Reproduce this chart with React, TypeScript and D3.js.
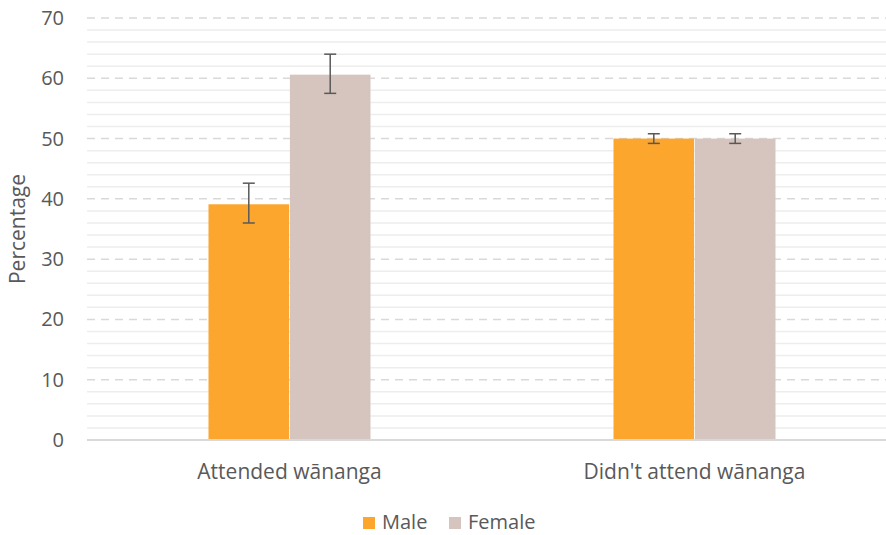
import React, { useEffect, useRef } from 'react';
import * as d3 from 'd3';

const categories = ['Attended w\u0101nanga', "Didn't attend w\u0101nanga"];
const seriesNames = ['Male', 'Female'];
const maleValues = [39.1, 50.0];
const femaleValues = [60.6, 50.0];
const maleLow = [36.0, 49.2];
const maleHigh = [42.6, 50.8];
const femaleLow = [57.5, 49.2];
const femaleHigh = [64.0, 50.8];
const yTicks = [0, 10, 20, 30, 40, 50, 60, 70];

const colors = ['#FCA62E', '#D6C5BE'];

const App: React.FC = () => {
  const svgRef = useRef<SVGSVGElement>(null);

  useEffect(() => {
    if (!svgRef.current) return;
    const width = 886;
    const height = 535;
    const margin = { top: 18, right: -11, bottom: 95, left: 87 };
    const font = 'Open Sans, sans-serif';

    const svg = d3.select(svgRef.current);
    svg.selectAll('*').remove();

    const y = d3.scaleLinear().domain([0, 70]).range([height - margin.bottom, margin.top]);
    const x0 = d3.scaleBand<string>()
      .domain(categories)
      .range([margin.left, width - margin.right])
      .padding(0);
    const bw = x0.bandwidth();
    const x1 = d3.scaleBand<string>()
      .domain(seriesNames)
      .range([bw * 0.3, bw * 0.7])
      .paddingInner(0.01);

    // minor gridlines
    const minor = d3.range(2, 70, 2).filter(v => v % 10 !== 0);
    svg.append('g')
      .selectAll('line')
      .data(minor)
      .join('line')
      .attr('x1', margin.left).attr('x2', width)
      .attr('y1', d => y(d)).attr('y2', d => y(d))
      .attr('stroke', '#EDEDED').attr('stroke-width', 1.5);

    // major gridlines
    svg.append('g')
      .selectAll('line')
      .data(yTicks.filter(d => d > 0))
      .join('line')
      .attr('x1', margin.left).attr('x2', width)
      .attr('y1', d => y(d)).attr('y2', d => y(d))
      .attr('stroke', '#D9D9D9').attr('stroke-width', 1.5)
      .attr('stroke-dasharray', '8,6');

    // bars
    const data = categories.map((c, i) => ({
      cat: c,
      items: [
        { s: seriesNames[0], v: maleValues[i], lo: maleLow[i], hi: maleHigh[i], c: colors[0] },
        { s: seriesNames[1], v: femaleValues[i], lo: femaleLow[i], hi: femaleHigh[i], c: colors[1] },
      ],
    }));

    const groups = svg.append('g')
      .selectAll('g')
      .data(data)
      .join('g')
      .attr('transform', d => `translate(${x0(d.cat)},0)`);

    groups.selectAll('rect')
      .data(d => d.items)
      .join('rect')
      .attr('x', d => x1(d.s)!)
      .attr('width', x1.bandwidth())
      .attr('y', d => y(d.v))
      .attr('height', d => y(0) - y(d.v))
      .attr('fill', d => d.c);

    // zero line
    svg.append('line')
      .attr('x1', margin.left).attr('x2', width)
      .attr('y1', y(0)).attr('y2', y(0))
      .attr('stroke', '#D9D9D9').attr('stroke-width', 2);

    // error bars
    const eb = groups.selectAll('g.err')
      .data(d => d.items)
      .join('g')
      .attr('class', 'err')
      .attr('transform', d => `translate(${x1(d.s)! + x1.bandwidth() / 2},0)`);
    eb.append('line')
      .attr('y1', d => y(d.lo)).attr('y2', d => y(d.hi))
      .attr('stroke', '#595959').attr('stroke-width', 1.5);
    eb.selectAll('line.cap')
      .data(d => [d.lo, d.hi])
      .join('line')
      .attr('class', 'cap')
      .attr('x1', -6).attr('x2', 6)
      .attr('y1', d => y(d)).attr('y2', d => y(d))
      .attr('stroke', '#595959').attr('stroke-width', 1.5);

    // y tick labels
    svg.append('g')
      .selectAll('text')
      .data(yTicks)
      .join('text')
      .attr('x', 64)
      .attr('y', d => y(d))
      .attr('dy', '0.35em')
      .attr('text-anchor', 'end')
      .attr('font-family', font)
      .attr('font-size', 20)
      .attr('fill', '#595959')
      .text(d => d);

    // x labels
    svg.append('g')
      .selectAll('text')
      .data(categories)
      .join('text')
      .attr('x', d => x0(d)! + bw / 2)
      .attr('y', 479)
      .attr('text-anchor', 'middle')
      .attr('font-family', font)
      .attr('font-size', 21)
      .attr('fill', '#595959')
      .text(d => d);

    // y axis title
    svg.append('text')
      .attr('transform', `translate(25,${(y(0) + y(70)) / 2}) rotate(-90)`)
      .attr('text-anchor', 'middle')
      .attr('font-family', font)
      .attr('font-size', 21)
      .attr('fill', '#595959')
      .text('Percentage');

    // legend
    const legendX = [363, 449];
    const legend = svg.append('g')
      .selectAll('g')
      .data(seriesNames)
      .join('g')
      .attr('transform', (d, i) => `translate(${legendX[i]},517)`);
    legend.append('rect')
      .attr('width', 12).attr('height', 12)
      .attr('fill', (d, i) => colors[i]);
    legend.append('text')
      .attr('x', 19)
      .attr('y', 12)
      .attr('font-family', font)
      .attr('font-size', 20)
      .attr('fill', '#595959')
      .text(d => d);
  }, []);

  return (
    <svg
      ref={svgRef}
      width={886}
      height={535}
      style={{ position: 'absolute', left: 0, top: 0, background: '#fff' }}
    />
  );
};

export default App;
